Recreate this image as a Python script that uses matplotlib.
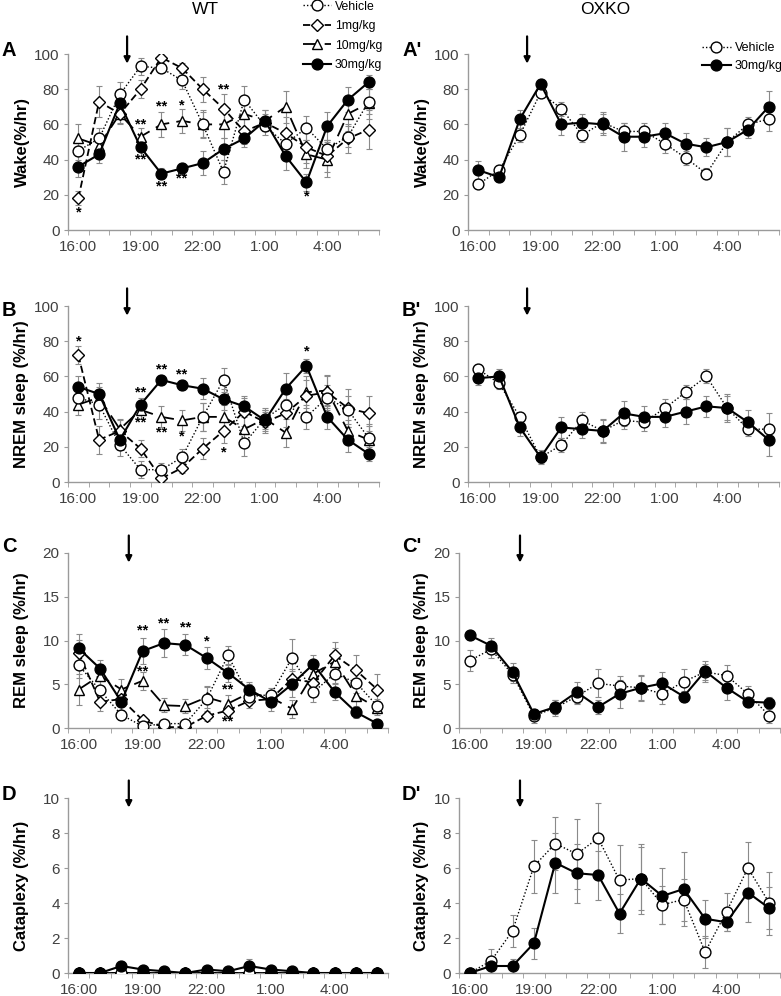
import numpy as np
import matplotlib
matplotlib.use("Agg")
import matplotlib.pyplot as plt
from matplotlib.lines import Line2D

plt.rcParams['font.family'] = ['Liberation Sans', 'DejaVu Sans']

hours = ["16:00", "17:00", "18:00", "19:00", "20:00", "21:00", "22:00", "23:00",
         "0:00", "1:00", "2:00", "3:00", "4:00", "5:00", "6:00"]
tick_labels = ["16:00", "19:00", "22:00", "1:00", "4:00"]
series_names = ["Vehicle", "1mg/kg", "10mg/kg", "30mg/kg"]

# ---- WT ----
wake_veh = [45, 52, 77, 93, 92, 85, 60, 33, 74, 59, 49, 58, 46, 53, 73]
wake_1 = [18, 73, 66, 80, 98, 92, 80, 69, 56, 61, 55, 47, 42, 52, 57]
wake_10 = [52, 48, 66, 53, 60, 62, 60, 60, 66, 62, 70, 43, 40, 66, 72]
wake_30 = [36, 43, 72, 47, 32, 35, 38, 46, 52, 62, 42, 27, 59, 74, 84]
wake_veh_e = [5, 6, 7, 5, 3, 5, 7, 7, 8, 5, 5, 7, 5, 6, 7]
wake_1_e = [4, 9, 6, 5, 1.5, 3, 7, 8, 7, 5, 9, 9, 9, 8, 11]
wake_10_e = [8, 7, 5, 5, 7, 7, 8, 8, 9, 6, 9, 8, 10, 10, 9]
wake_30_e = [6, 5, 7, 5, 3, 3, 7, 6, 5, 6, 8, 5, 8, 7, 4]

nrem_veh = [48, 44, 21, 7, 7, 14, 37, 58, 22, 36, 44, 37, 48, 41, 25]
nrem_1 = [72, 24, 29, 19, 2, 8, 19, 29, 40, 34, 39, 49, 51, 42, 39]
nrem_10 = [44, 48, 30, 41, 37, 35, 37, 37, 30, 36, 28, 51, 52, 29, 24]
nrem_30 = [54, 50, 24, 44, 58, 55, 53, 47, 43, 35, 53, 66, 37, 24, 16]
nrem_veh_e = [5, 8, 6, 5, 4, 5, 8, 7, 7, 5, 6, 7, 7, 8, 8]
nrem_1_e = [5, 8, 6, 5, 2, 3, 6, 7, 8, 6, 8, 9, 9, 11, 10]
nrem_10_e = [6, 6, 6, 5, 6, 6, 8, 7, 8, 6, 8, 9, 9, 6, 8]
nrem_30_e = [6, 6, 6, 4, 3, 3, 6, 6, 6, 6, 9, 4, 7, 7, 4]

rem_veh = [7.2, 4.3, 1.5, 0.2, 0.5, 0.5, 3.3, 8.3, 3.6, 3.8, 8.0, 4.1, 6.2, 5.2, 2.5]
rem_1 = [8.6, 3.0, 3.3, 0.9, 0.1, 0.1, 1.4, 2.0, 3.1, 3.3, 5.6, 5.2, 8.3, 6.6, 4.4]
rem_10 = [4.4, 6.0, 4.4, 5.4, 2.6, 2.5, 3.5, 2.8, 4.0, 3.5, 2.2, 6.2, 7.6, 3.7, 2.3]
rem_30 = [9.1, 6.8, 3.0, 8.8, 9.7, 9.5, 8.0, 6.3, 4.4, 3.0, 5.0, 7.3, 4.1, 1.8, 0.5]
rem_veh_e = [1.5, 1.1, 0.6, 0.3, 0.3, 0.4, 1.5, 1.1, 1.0, 0.8, 2.2, 1.1, 1.1, 1.2, 0.8]
rem_1_e = [1.5, 1.0, 0.8, 0.4, 0.2, 0.2, 0.6, 0.8, 0.8, 0.8, 1.2, 1.2, 1.5, 1.7, 1.8]
rem_10_e = [1.8, 1.3, 1.2, 1.0, 0.8, 0.8, 1.2, 1.0, 1.0, 0.9, 1.0, 1.3, 1.5, 1.3, 0.8]
rem_30_e = [1.7, 1.0, 1.2, 1.5, 1.6, 1.2, 1.3, 1.0, 0.9, 1.0, 1.5, 1.1, 0.9, 0.7, 0.3]

cat_veh = [0, 0, 0, 0, 0, 0, 0, 0, 0, 0, 0, 0, 0, 0, 0]
cat_1 = [0, 0, 0, 0, 0, 0, 0, 0, 0, 0, 0, 0, 0, 0, 0]
cat_10 = [0, 0, 0, 0, 0, 0, 0, 0, 0, 0, 0, 0, 0, 0, 0]
cat_30 = [0, 0, 0.4, 0.2, 0.1, 0, 0.2, 0.1, 0.4, 0.2, 0.1, 0, 0, 0, 0]
cat_30_e = [0, 0, 0.3, 0.1, 0.05, 0, 0.1, 0.05, 0.4, 0.1, 0.05, 0, 0, 0, 0]
cat_zero_e = [0] * 15

# ---- OXKO ----
ko_wake_veh = [26, 34, 54, 78, 69, 54, 61, 56, 56, 49, 41, 32, 50, 60, 63]
ko_wake_30 = [34, 30, 63, 83, 60, 61, 60, 53, 53, 55, 49, 47, 50, 57, 70]
ko_wake_veh_e = [2, 3, 4, 3, 4, 4, 6, 5, 5, 5, 4, 3, 8, 4, 7]
ko_wake_30_e = [5, 3, 5, 3, 6, 5, 6, 8, 6, 6, 6, 5, 8, 5, 9]

ko_nrem_veh = [64, 56, 37, 14, 21, 35, 29, 35, 34, 42, 51, 60, 42, 30, 30]
ko_nrem_30 = [59, 60, 31, 14, 31, 30, 29, 39, 37, 37, 40, 43, 42, 34, 24]
ko_nrem_veh_e = [3, 3, 3, 3, 4, 5, 6, 5, 5, 5, 4, 4, 8, 4, 9]
ko_nrem_30_e = [4, 4, 5, 4, 6, 5, 7, 7, 6, 6, 7, 6, 7, 7, 9]

ko_rem_veh = [7.7, 9.0, 6.1, 1.4, 2.3, 3.6, 5.1, 4.8, 4.6, 3.9, 5.3, 6.4, 6.0, 3.9, 1.4]
ko_rem_30 = [10.6, 9.4, 6.4, 1.6, 2.4, 4.1, 2.4, 3.9, 4.6, 5.1, 3.6, 6.5, 4.6, 3.0, 2.9]
ko_rem_veh_e = [1.2, 1.0, 0.9, 0.8, 0.9, 0.9, 1.6, 1.1, 1.5, 1.2, 1.5, 0.9, 1.2, 0.9, 0.8]
ko_rem_30_e = [0.5, 0.9, 1.0, 0.4, 0.8, 1.2, 0.8, 1.6, 1.4, 1.3, 0.6, 1.2, 1.4, 0.6, 0.6]

ko_cat_veh = [0, 0.7, 2.4, 6.1, 7.4, 6.8, 7.7, 5.3, 5.4, 3.9, 4.2, 1.2, 3.5, 6.0, 4.0]
ko_cat_30 = [0, 0.4, 0.4, 1.7, 6.3, 5.7, 5.6, 3.4, 5.4, 4.4, 4.8, 3.1, 2.9, 4.6, 3.7]
ko_cat_veh_e = [0, 0.7, 0.9, 1.5, 1.5, 2.0, 2.0, 2.0, 1.8, 1.1, 1.2, 0.9, 1.1, 1.5, 1.8]
ko_cat_30_e = [0, 0.2, 0.4, 0.9, 1.7, 1.7, 1.4, 1.1, 2.0, 1.6, 2.1, 1.1, 0.5, 1.7, 1.2]

# significance marks: (x index, y value, text)
stars_A = [(0, 10, "*"), (3, 60, "**"), (3, 40, "**"), (4, 70, "**"), (4, 25, "**"),
           (5, 71, "*"), (5, 29, "**"), (7, 80, "**"), (11, 19, "*")]
stars_B = [(0, 80, "*"), (3, 51, "**"), (3, 34, "**"), (4, 64, "**"), (4, 28, "**"),
           (5, 61, "**"), (5, 26, "*"), (7, 17, "*"), (11, 74, "*")]
stars_C = [(3, 11.2, "**"), (3, 6.5, "**"), (4, 12.0, "**"), (5, 11.5, "**"),
           (6, 9.9, "*"), (7, 4.4, "**"), (7, 0.8, "**")]

W, H = 781, 996
fig = plt.figure(figsize=(W / 100, H / 100), dpi=100)

def px_axes(l, t, r, b):
    return fig.add_axes([l / W, 1 - b / H, (r - l) / W, (b - t) / H])

styles = {
    "Vehicle": dict(ls=(0, (1, 1.5)), marker="o", mfc="white", lw=1.0),
    "1mg/kg": dict(ls=(0, (4, 2)), marker="D", mfc="white", lw=1.3, ms_scale=0.72),
    "10mg/kg": dict(ls=(0, (8, 4)), marker="^", mfc="white", lw=1.3),
    "30mg/kg": dict(ls="-", marker="o", mfc="black", lw=1.5),
}

x = np.arange(15)
GRAY = "#9a9a9a"
TXT = "#404040"

def style_axes(ax, ymax, ystep):
    ax.set_xlim(-0.5, 14.5)
    ax.set_ylim(0, ymax)
    ax.set_yticks(np.arange(0, ymax + 0.01, ystep))
    ax.set_xticks([0, 3, 6, 9, 12])
    ax.set_xticklabels(tick_labels)
    ax.set_xticks(np.arange(-0.5, 15, 1), minor=True)
    ax.tick_params(axis="x", which="major", length=0, labelsize=11, colors=TXT, pad=7)
    ax.tick_params(axis="x", which="minor", length=3.5, direction="out", color=GRAY)
    ax.tick_params(axis="y", length=3, direction="out", color=GRAY, labelsize=11,
                   labelcolor=TXT, pad=3)
    for s in ["top", "right"]:
        ax.spines[s].set_visible(False)
    for s in ["left", "bottom"]:
        ax.spines[s].set_color(GRAY)
        ax.spines[s].set_linewidth(1.0)
    ax.set_facecolor("none")

def plot_series(ax, name, y, e, ms=7.8):
    st = styles[name]
    msz = ms * st.get("ms_scale", 1.0)
    ax.errorbar(x, y, yerr=e, fmt="none", ecolor="#8a8a8a", elinewidth=0.8,
                capsize=2.2, capthick=0.8, zorder=1)
    ax.plot(x, y, color="black", ls=st["ls"], lw=st["lw"], marker=st["marker"],
            mfc=st["mfc"], mec="black", mew=1.0, ms=msz, zorder=3)

def arrow(ax):
    ax.annotate("", xy=(2.35, 0.945), xytext=(2.35, 1.10),
                xycoords=("data", "axes fraction"), textcoords=("data", "axes fraction"),
                arrowprops=dict(arrowstyle="-|>", color="black", lw=1.6,
                                mutation_scale=9, shrinkA=0, shrinkB=0),
                annotation_clip=False)

def stars(ax, lst):
    for xi, yv, t in lst:
        ax.text(xi, yv, t, ha="center", va="center", fontsize=10.5, fontweight="bold")

boxes_L = [(68, 54, 379, 230), (68, 306, 379, 482), (68, 553, 388, 728), (68, 798, 388, 973)]
boxes_R = [(468, 54, 779, 230), (468, 306, 779, 482), (459, 553, 780, 728), (459, 798, 780, 973)]

ylabels = ["Wake(%/hr)", "NREM sleep (%/hr)", "REM sleep (%/hr)", "Cataplexy (%/hr)"]
ymaxes = [(100, 20), (100, 20), (20, 5), (10, 2)]
letters_L = ["A", "B", "C", "D"]
letters_R = ["A'", "B'", "C'", "D'"]
letter_y = [51, 311, 547, 794]

wt_data = [
    [(wake_veh, wake_veh_e), (wake_1, wake_1_e), (wake_10, wake_10_e), (wake_30, wake_30_e)],
    [(nrem_veh, nrem_veh_e), (nrem_1, nrem_1_e), (nrem_10, nrem_10_e), (nrem_30, nrem_30_e)],
    [(rem_veh, rem_veh_e), (rem_1, rem_1_e), (rem_10, rem_10_e), (rem_30, rem_30_e)],
    [(cat_veh, cat_zero_e), (cat_1, cat_zero_e), (cat_10, cat_zero_e), (cat_30, cat_30_e)],
]
ko_data = [
    [(ko_wake_veh, ko_wake_veh_e), (ko_wake_30, ko_wake_30_e)],
    [(ko_nrem_veh, ko_nrem_veh_e), (ko_nrem_30, ko_nrem_30_e)],
    [(ko_rem_veh, ko_rem_veh_e), (ko_rem_30, ko_rem_30_e)],
    [(ko_cat_veh, ko_cat_veh_e), (ko_cat_30, ko_cat_30_e)],
]
star_sets = [stars_A, stars_B, stars_C, []]

for i in range(4):
    # WT
    ax = px_axes(*boxes_L[i])
    style_axes(ax, *ymaxes[i])
    order = [2, 1, 0, 3]
    for k in order:
        plot_series(ax, series_names[k], *wt_data[i][k])
    arrow(ax)
    stars(ax, star_sets[i])
    l, t, r, b = boxes_L[i]
    fig.text(22 / W, 1 - ((t + b) / 2) / H, ylabels[i], rotation=90, ha="center",
             va="center", fontsize=12, fontweight="bold")
    fig.text(2 / W, 1 - letter_y[i] / H, letters_L[i], ha="left", va="center",
             fontsize=14.5, fontweight="bold")
    # OXKO
    ax2 = px_axes(*boxes_R[i])
    style_axes(ax2, *ymaxes[i])
    plot_series(ax2, "Vehicle", *ko_data[i][0])
    plot_series(ax2, "30mg/kg", *ko_data[i][1])
    arrow(ax2)
    l, t, r, b = boxes_R[i]
    fig.text(422 / W, 1 - ((t + b) / 2) / H, ylabels[i], rotation=90, ha="center",
             va="center", fontsize=12, fontweight="bold")
    fig.text(402 / W, 1 - letter_y[i] / H, letters_R[i], ha="left", va="center",
             fontsize=14.5, fontweight="bold")
    if i == 0:
        hs = [Line2D([], [], color="black", ls=styles[n]["ls"], lw=styles[n]["lw"],
                     marker=styles[n]["marker"], mfc=styles[n]["mfc"], mec="black",
                     ms=7.8) for n in ["Vehicle", "30mg/kg"]]
        ax2.legend(hs, ["Vehicle", "30mg/kg"], loc="upper left",
                   bbox_to_anchor=((702 - 468) / (779 - 468), 1 - (42 - 54) / 176),
                   frameon=False, fontsize=9, handlelength=2.3, handletextpad=0.3,
                   labelspacing=0.5, borderpad=0, borderaxespad=0)

fig.text(205 / W, 1 - 10 / H, "WT", ha="center", va="center", fontsize=12.5)
fig.text(605 / W, 1 - 10 / H, "OXKO", ha="center", va="center", fontsize=12.5)

hs = []
for n in series_names:
    st = styles[n]
    hs.append(Line2D([], [], color="black", ls=st["ls"], lw=st["lw"], marker=st["marker"],
                     mfc=st["mfc"], mec="black", ms=7.8 * st.get("ms_scale", 1.0)))
fig.legend(hs, series_names, loc="upper left", bbox_to_anchor=(303 / W, 1 - 0.5 / H),
           frameon=False, fontsize=8.8, handlelength=2.3, handletextpad=0.3,
           labelspacing=0.62, borderpad=0, borderaxespad=0)

fig.savefig("out.png", dpi=100)
